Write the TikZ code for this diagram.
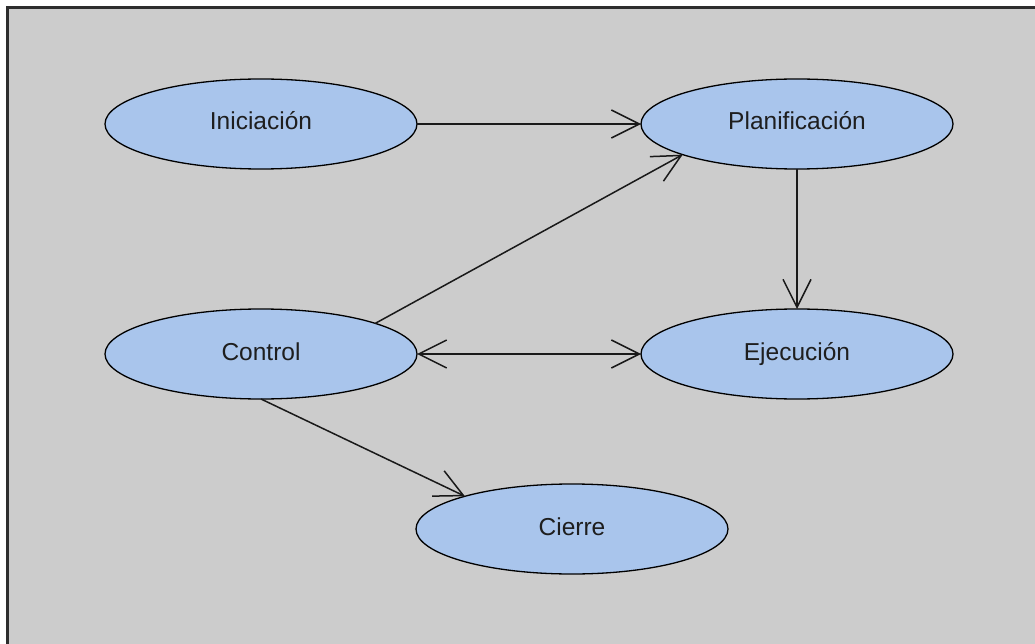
\documentclass[tikz,border=0pt]{standalone}
\usepackage{fontspec}
\setmainfont{Liberation Sans}
\usetikzlibrary{arrows.meta,shapes.geometric}
\definecolor{canvasgray}{RGB}{204,204,204}
\definecolor{framegray}{RGB}{45,45,45}
\definecolor{stateblue}{RGB}{169,197,236}
\definecolor{labelink}{RGB}{30,30,30}
\begin{document}
\begin{tikzpicture}[x=1pt,y=-1pt,
  phase/.style={ellipse,draw=black,line width=1.3pt,fill=stateblue,
    minimum width=312pt,minimum height=90pt,inner sep=0pt,outer sep=0pt,
    text height=17.5pt,text depth=5.5pt,
    text=labelink,font=\fontsize{24.5}{29}\selectfont},
  flow/.style={line width=1.5pt,draw=black!90,
    -{Straight Barb[length=28pt,width=28pt,line width=1.5pt]}},
  both/.style={line width=1.5pt,draw=black!90,
    {Straight Barb[length=28pt,width=28pt,line width=1.5pt]}-{Straight Barb[length=28pt,width=28pt,line width=1.5pt]}}]
  % page and panel
  \useasboundingbox (0,0) rectangle (1035,644);
  \fill[white] (0,0) rectangle (1035,644);
  \fill[canvasgray] (7,8) rectangle (1040,650);
  \draw[framegray,line width=3pt] (7,650) -- (7,8) -- (1040,8);

  % project phases
  \node[phase] (ini) at (261,124) {Iniciación};
  \node[phase] (pla) at (797,124) {Planificación};
  \node[phase] (con) at (261,354) {Control};
  \node[phase] (eje) at (797,354) {Ejecución};
  \node[phase] (cie) at (572,529) {Cierre};

  % transitions
  \draw[flow] (ini.east) -- (pla.west);
  \draw[flow] (pla.south) -- (eje.north);
  \draw[flow] (con.15) -- (pla.195);
  \draw[both] (con.east) -- (eje.west);
  \draw[flow] (con.south) -- (cie.163);
\end{tikzpicture}
\end{document}
